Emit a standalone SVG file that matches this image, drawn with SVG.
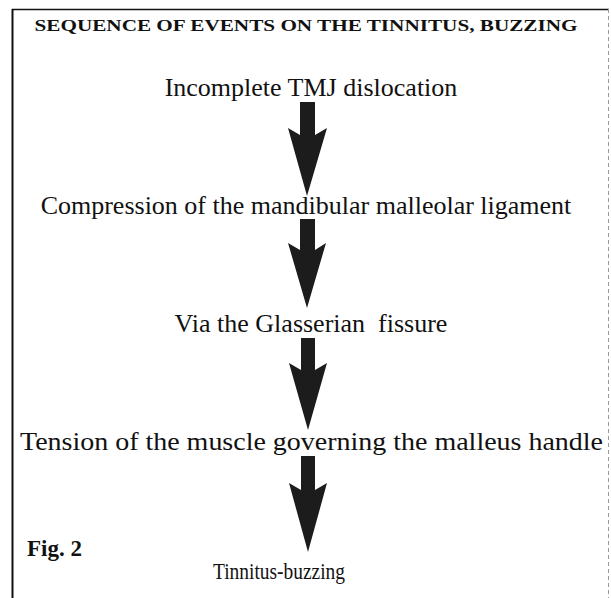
<svg xmlns="http://www.w3.org/2000/svg" width="611" height="598" viewBox="0 0 611 598">
<style>
.t{font-family:"Liberation Serif","Times New Roman",serif;fill:#111;}
.b{font-weight:bold;}
.n{font-size:26px;text-anchor:middle;}
.arr{fill:#1c1c1c;}
</style>
<rect width="611" height="598" fill="#fff"/>
<g id="frame">
<line x1="12.5" y1="9" x2="12.5" y2="598" stroke="#111" stroke-width="2"/>
<line x1="12" y1="9.5" x2="609" y2="9.5" stroke="#111" stroke-width="1.5"/>
<line x1="608.5" y1="9" x2="608.5" y2="598" stroke="#999" stroke-width="1" stroke-dasharray="4 3"/>
</g>
<g id="title"><text class="t b" x="306" y="31" font-size="17.5" text-anchor="middle" textLength="543" lengthAdjust="spacingAndGlyphs">SEQUENCE OF EVENTS ON THE TINNITUS, BUZZING</text></g>
<g id="n1"><text class="t n" x="311" y="96">Incomplete TMJ dislocation</text></g>
<g id="n2"><text class="t n" x="306" y="214">Compression of the mandibular malleolar ligament</text></g>
<g id="n3"><text class="t n" x="311" y="332" xml:space="preserve">Via the Glasserian  fissure</text></g>
<g id="n4"><text class="t n" x="311.5" y="450" textLength="583" lengthAdjust="spacingAndGlyphs">Tension of the muscle governing the malleus handle</text></g>
<g id="n5"><text class="t" x="279" y="579" font-size="23" text-anchor="middle" textLength="132" lengthAdjust="spacingAndGlyphs">Tinnitus-buzzing</text></g>
<g id="fig"><text class="t b" x="27" y="556" font-size="23">Fig. 2</text></g>
<g id="connectors">
<path class="arr" d="M300,102 L315,102 L315,135 L327,128 L307,196 L288,128 L300,135 Z"/>
<path class="arr" d="M300,219 L315,219 L315,250 L326,243 L307,308 L288,243 L300,250 Z"/>
<path class="arr" d="M301,338 L315,338 L315,370 L327,363 L308,430 L289,363 L301,370 Z"/>
<path class="arr" d="M301,456 L315,456 L315,490 L327,483 L308,552 L289,483 L301,490 Z"/>
</g>
</svg>
